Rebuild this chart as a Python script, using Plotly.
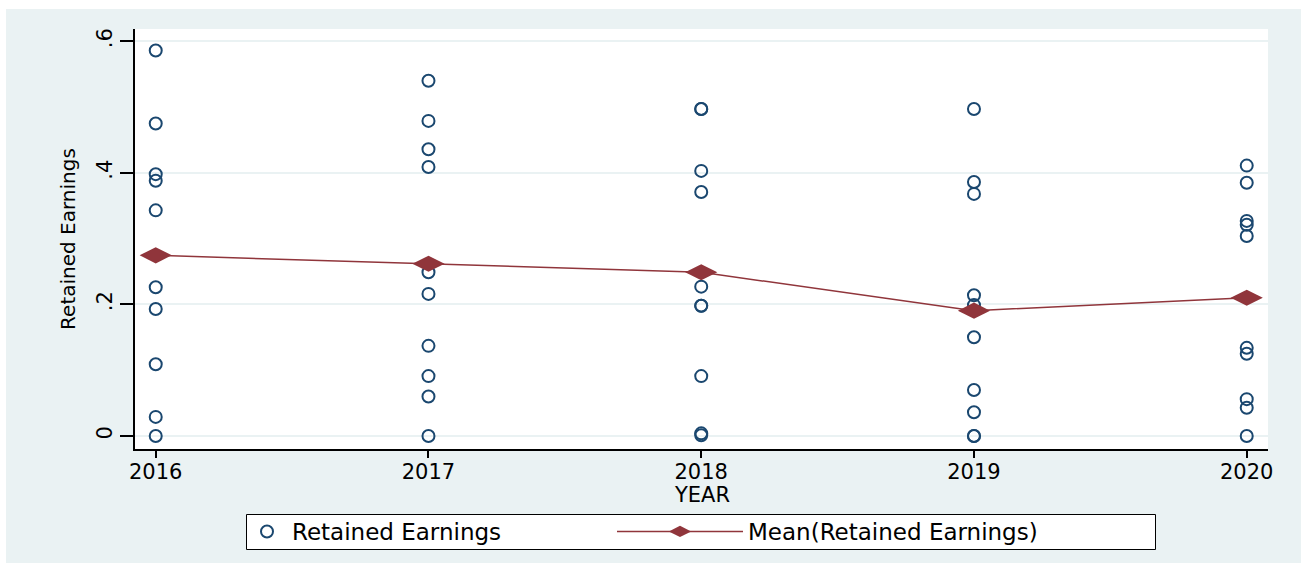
import plotly.graph_objects as go

years = [2016, 2017, 2018, 2019, 2020]

re_2016 = [0.586, 0.475, 0.398, 0.388, 0.343, 0.226, 0.193, 0.109, 0.029, 0.0]
re_2017 = [0.540, 0.479, 0.436, 0.409, 0.249, 0.216, 0.137, 0.091, 0.060, 0.0]
re_2018 = [0.497, 0.497, 0.403, 0.371, 0.227, 0.198, 0.198, 0.091, 0.004, 0.001]
re_2019 = [0.497, 0.386, 0.368, 0.214, 0.199, 0.150, 0.070, 0.036, 0.0, 0.0]
re_2020 = [0.411, 0.385, 0.327, 0.321, 0.304, 0.134, 0.125, 0.056, 0.043, 0.0]

mean_re = [0.2746, 0.2619, 0.2488, 0.1905, 0.2102]

groups = [re_2016, re_2017, re_2018, re_2019, re_2020]
xs, ys = [], []
for yr, vals in zip(years, groups):
    xs += [yr] * len(vals)
    ys += vals

NAVY = "rgb(26,71,111)"
MAROON = "rgb(144,53,59)"
BG = "rgb(234,242,243)"
FONT = "DejaVu Sans"

fig = go.Figure()
fig.add_trace(go.Scatter(
    x=xs, y=ys, mode="markers", name="Retained Earnings", legend="legend",
    marker=dict(symbol="circle-open", size=12, color=NAVY, line=dict(width=2, color=NAVY)),
))
fig.add_trace(go.Scatter(
    x=years, y=mean_re, mode="lines+markers", name="Mean(Retained Earnings)", legend="legend2",
    line=dict(color=MAROON, width=1.5),
    marker=dict(symbol="diamond-wide", size=23, color=MAROON),
))

L, R, T, B = 135, 33, 29, 123
W, H = 1301, 572
pw, ph = W - L - R, H - T - B

def px(x):
    return (x - L) / pw

def py(y):
    return (H - B - y) / ph

shapes = [
    dict(type="rect", xref="paper", yref="paper", x0=px(-5), x1=px(W + 5), y0=py(9), y1=py(-5),
         fillcolor="white", line=dict(width=0), layer="below"),
    dict(type="rect", xref="paper", yref="paper", x0=px(-5), x1=px(6), y0=py(H + 5), y1=py(-5),
         fillcolor="white", line=dict(width=0), layer="below"),
    dict(type="rect", xref="paper", yref="paper", x0=px(-5), x1=px(W + 5), y0=py(H + 5), y1=py(563),
         fillcolor="white", line=dict(width=0), layer="below"),
    dict(type="rect", xref="paper", yref="paper", x0=px(246.5), x1=px(1155.5), y0=py(549.5), y1=py(514.5),
         fillcolor="white", line=dict(width=1, color="black"), layer="below"),
]

leg_common = dict(bgcolor="rgba(0,0,0,0)", borderwidth=0, orientation="h",
                  font=dict(family=FONT, size=23, color="black"),
                  yanchor="middle", y=py(531.5), xanchor="left")

fig.update_layout(
    width=W, height=H,
    margin=dict(l=L, r=R, t=T, b=B),
    paper_bgcolor=BG, plot_bgcolor="white",
    font=dict(family=FONT, color="black", size=20),
    shapes=shapes,
    showlegend=True,
    legend=dict(leg_common, x=px(242), itemwidth=40),
    legend2=dict(leg_common, x=px(612), itemwidth=126),
    annotations=[dict(text="YEAR", xref="paper", yref="paper", x=0.5, y=py(495),
                      xanchor="center", yanchor="middle", showarrow=False,
                      font=dict(family=FONT, size=21, color="black"))],
    xaxis=dict(
        range=[2015.924, 2020.078], tickvals=years, ticktext=[str(y) for y in years],
        showgrid=False, zeroline=False, showline=True, linecolor="black", linewidth=1.5,
        ticks="outside", ticklen=7, tickwidth=1.5, tickcolor="black",
        ticklabelstandoff=-4,
        tickfont=dict(family=FONT, size=21),
    ),
    yaxis=dict(
        range=[-0.0198, 0.6187], tickvals=[0, 0.2, 0.4, 0.6], ticktext=["0", ".2", ".4", ".6"],
        tickangle=-90,
        showgrid=True, gridcolor=BG, gridwidth=2, zeroline=False,
        showline=True, linecolor="black", linewidth=1.8,
        ticks="outside", ticklen=13, tickwidth=1.5, tickcolor="black",
        tickfont=dict(family=FONT, size=21),
        title=dict(text="Retained Earnings", font=dict(family=FONT, size=20), standoff=12),
    ),
)

fig.write_html("out.html", config={"displayModeBar": False},
               post_script="document.body.style.margin='0';document.body.style.overflow='hidden';")
